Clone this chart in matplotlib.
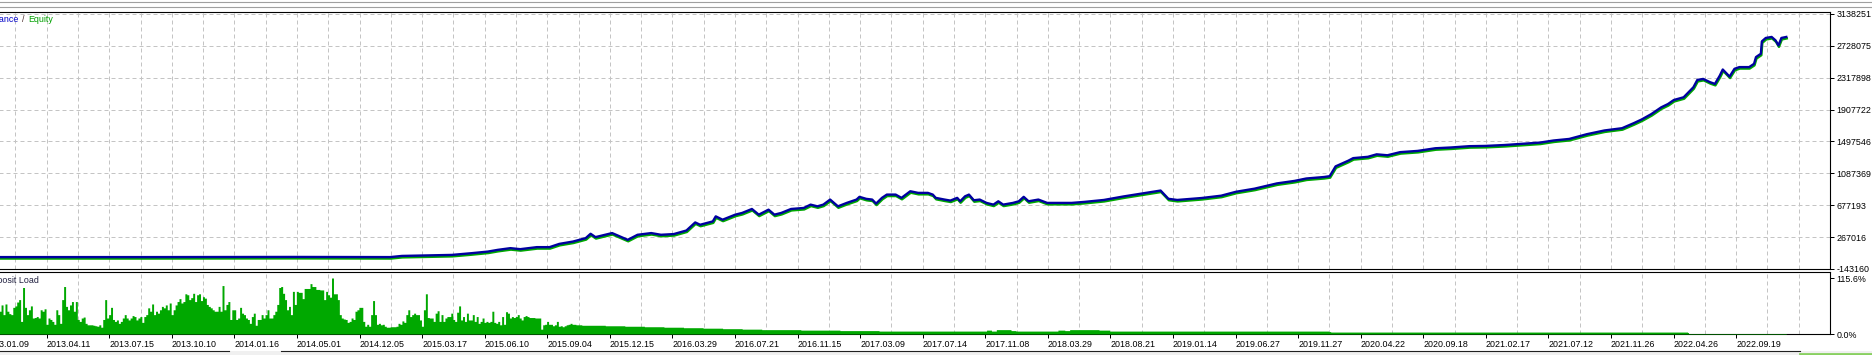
import numpy as np
import matplotlib
matplotlib.use("Agg")
import matplotlib.pyplot as plt
import matplotlib.transforms as mtransforms
from matplotlib.lines import Line2D

plt.rcParams["font.family"] = ["Liberation Sans", "DejaVu Sans"]

# balance curve (deal number, account value)
deals = [-40, 150, 300, 400, 412, 463, 483, 500, 510, 523, 533, 550, 563, 573, 587,
         600, 605, 610, 627, 643, 653, 667, 677, 690, 703, 712, 717, 730, 733, 740,
         753, 760, 770, 777, 787, 793, 800, 810, 823, 830, 837, 843, 850, 858, 867,
         877, 880, 887, 893, 897, 903, 908, 917, 923, 932, 940, 950, 955, 958, 967,
         973, 980, 983, 988, 992, 997, 1003, 1010, 1017, 1022, 1027, 1037, 1043, 1048, 1053,
         1063, 1072, 1083, 1097, 1110, 1130, 1150, 1170, 1188, 1196, 1205, 1230, 1250, 1265,
         1284, 1307, 1325, 1337, 1355, 1361, 1367, 1380, 1385, 1400, 1409, 1420, 1433, 1451,
         1469, 1485, 1504, 1520, 1540, 1560, 1576, 1590, 1606, 1624, 1642, 1660, 1672, 1680,
         1690, 1700, 1707, 1713, 1723, 1733, 1737, 1743, 1750, 1755, 1760, 1763, 1770, 1775,
         1780, 1790, 1795, 1797, 1802, 1803, 1807, 1813, 1817, 1820, 1823, 1828]
balance = [10000, 10000, 12000, 10000, 25000, 38000, 60000, 81000, 103000, 125000, 112000, 138000, 138000, 180000, 210000,
           254000, 310000, 267000, 319000, 232000, 297000, 319000, 297000, 306000, 352000, 456000, 426000, 469000, 534000, 491000,
           556000, 578000, 629000, 556000, 620000, 556000, 578000, 629000, 642000, 685000, 663000, 685000, 750000, 663000, 707000,
           750000, 785000, 759000, 750000, 698000, 772000, 814000, 814000, 772000, 857000, 836000, 836000, 814000, 772000, 750000,
           737000, 772000, 728000, 792000, 814000, 741000, 750000, 707000, 685000, 728000, 685000, 707000, 728000, 785000, 728000,
           750000, 707000, 707000, 707000, 720000, 745000, 790000, 830000, 866000, 760000, 745000, 770000, 800000, 850000,
           890000, 958000, 990000, 1021000, 1040000, 1051000, 1177000, 1250000, 1283000, 1300000, 1332000, 1320000, 1360000, 1376000,
           1410000, 1420000, 1437000, 1440000, 1452000, 1470000, 1483000, 1510000, 1530000, 1591000, 1639000, 1668000, 1733000, 1780000,
           1850000, 1936000, 1979000, 2031000, 2066000, 2195000, 2289000, 2302000, 2260000, 2238000, 2345000, 2423000, 2332000, 2432000,
           2454000, 2454000, 2496000, 2583000, 2626000, 2785000, 2829000, 2842000, 2798000, 2733000, 2829000, 2842000]

# deposit load (%), one value every 2 deals from deal 0 to 598
load_2013 = [47, 60, 40, 62, 47, 42, 40, 55, 58, 66, 71, 26, 96, 55, 40, 50, 58, 33, 34, 36,
             33, 50, 47, 52, 20, 33, 30, 26, 20, 50, 40, 22, 71, 98, 57, 50, 60, 67, 47, 67,
             30, 26, 33, 35, 22, 19, 19, 19, 18, 17, 16, 19, 14, 30, 71, 33, 40, 55, 30, 26,
             29, 22, 26, 33, 40, 33, 29, 33, 38, 36, 29, 33, 36, 24, 36, 40, 54, 47, 62, 40,
             47, 43, 50, 57, 54, 60, 50, 64, 40, 50, 60, 67, 73, 64, 67, 83, 81, 71, 75, 84]
load_2014 = [67, 81, 83, 69, 77, 74, 61, 57, 54, 50, 47, 47, 57, 47, 100, 50, 61, 67, 30, 50,
             50, 30, 33, 55, 43, 40, 33, 30, 22, 36, 43, 18, 30, 30, 40, 33, 40, 50, 33, 33,
             40, 47, 61, 96, 98, 84, 71, 50, 57, 40, 88, 61, 88, 86, 86, 73, 94, 94, 94, 104,
             98, 98, 92, 92, 91, 91, 71, 88, 81, 76, 115.6, 83, 83, 71, 40, 33, 31, 30, 24, 26,
             33, 30, 47, 50, 55, 55, 26, 16, 20, 16, 40, 69, 40, 20, 22, 19, 20, 16, 14, 14]
load_2015 = [15, 15, 15, 16, 22, 20, 27, 24, 40, 50, 36, 40, 43, 40, 40, 29, 16, 50, 83, 34,
             33, 33, 26, 43, 48, 26, 40, 26, 33, 36, 36, 43, 30, 26, 45, 58, 29, 36, 26, 43,
             29, 29, 40, 26, 36, 22, 26, 33, 24, 26, 24, 26, 47, 24, 22, 26, 19, 36, 20, 46,
             43, 33, 36, 34, 36, 40, 33, 29, 36, 38, 36, 34, 34, 34, 33, 33, 33, 10, 19, 20,
             26, 20, 20, 17, 19, 26, 16, 17, 15, 17, 19, 20, 22, 20, 20, 19, 19, 19, 18, 18]
# later, thinner part of the load histogram
tail_deals = [600, 620, 640, 660, 680, 700, 720, 740, 760, 780, 800, 820, 840, 860, 880,
              900, 940, 1000, 1010, 1015, 1020, 1035, 1040, 1080, 1083, 1090, 1095, 1110, 1125, 1136,
              1200, 1360, 1362, 1500, 1727, 1728, 1828]
tail_load = [18, 17, 16, 15, 14, 13, 12, 11, 10, 9, 9, 8, 8, 7, 7,
             6, 6, 6, 8, 6, 9, 7, 6, 6, 8, 7, 9, 9, 8, 6,
             6, 5, 4, 4, 3, 1, 1]

y_ticks = [-143160, 267016, 677193, 1087369, 1497546, 1907722, 2317898, 2728075, 3138251]
dates = ["2013.01.09", "2013.04.11", "2013.07.15", "2013.10.10", "2014.01.16", "2014.05.01",
         "2014.12.05", "2015.03.17", "2015.06.10", "2015.09.04", "2015.12.15", "2016.03.29",
         "2016.07.21", "2016.11.15", "2017.03.09", "2017.07.14", "2017.11.08", "2018.03.29",
         "2018.08.21", "2019.01.14", "2019.06.27", "2019.11.27", "2020.04.22", "2020.09.18",
         "2021.02.17", "2021.07.12", "2021.11.26", "2022.04.26", "2022.09.19"]

W, H = 1872, 355


def box(x0, y0, x1, y1):
    return [x0 / W, 1 - y1 / H, (x1 - x0) / W, (y1 - y0) / H]


fig = plt.figure(figsize=(W / 100, H / 100), dpi=100)
ax = fig.add_axes(box(-40, 12, 1830, 269))
ax2 = fig.add_axes(box(-40, 272, 1830, 334))

grid_kw = dict(color="#c4c4c4", lw=0.72, linestyle=(0, (4, 3)))
grid_x = -15.3 + 32 * np.arange(60)
label_x = -15.3 + 64 * np.arange(len(dates))

# balance / equity
blue = "#0000a0"
green = "#00a800"
shift = mtransforms.offset_copy(ax.transData, fig=fig, x=0.5, y=-1.5, units="dots")
ax.plot(deals, balance, color=green, lw=1.7, transform=shift, zorder=3)
ax.plot(deals, balance, color=blue, lw=1.7, zorder=4)

step = y_ticks[1] - y_ticks[0]
ax.set_xlim(-40, 1830)
ax.set_ylim(y_ticks[0], y_ticks[-1] + 0.06 * step)
ax.set_xticks(grid_x)
ax.set_xticklabels([])
ax.tick_params(axis="x", length=0)
ax.yaxis.tick_right()
ax.set_yticks(y_ticks)
ax.set_yticklabels([str(v) for v in y_ticks])
ax.tick_params(axis="y", length=3, width=0.72, pad=1.5, labelsize=6.4, colors="black")
ax.grid(True, **grid_kw)
ax.set_axisbelow(True)

# deposit load
x_fine = 2 * np.arange(len(load_2013) + len(load_2014) + len(load_2015))
load_x = list(x_fine) + tail_deals
load_y = load_2013 + load_2014 + load_2015 + tail_load
ax2.fill_between(load_x, load_y, step="post", color=green, lw=0, zorder=3)
ax2.set_xlim(-40, 1830)
ax2.set_ylim(0, 128)
ax2.set_xticks(label_x)
ax2.set_xticklabels(dates, ha="left")
ax2.set_xticks(grid_x, minor=True)
ax2.tick_params(axis="x", which="major", length=3, width=0.72, pad=1, labelsize=6.4)
ax2.tick_params(axis="x", which="minor", length=0)
ax2.yaxis.tick_right()
ax2.set_yticks([0, 115.6])
ax2.set_yticklabels(["0.0%", "115.6%"])
ax2.tick_params(axis="y", length=3, width=0.72, pad=1.5, labelsize=6.4)
ax2.grid(True, axis="x", which="minor", **grid_kw)
ax2.set_axisbelow(True)

for a in (ax, ax2):
    for s in a.spines.values():
        s.set_linewidth(0.8)
        s.set_color("black")

# panel captions (cut off at the left edge, as in the original window)
fs = 6.4
fig.text(19 / W, 1 - 20 / H, "Balance", color="#0000c8", fontsize=fs, ha="right", va="center")
fig.text(21.5 / W, 1 - 20 / H, "/", color="#503030", fontsize=fs, ha="left", va="center")
fig.text(28 / W, 1 - 20 / H, "Equity", color="#00a000", fontsize=fs, ha="left", va="center")
fig.text(39 / W, 1 - 280.5 / H, "Deposit Load", color="#202040", fontsize=fs, ha="right", va="center")


# window frame bits
def hline(y, x0, x1, color, lw=0.8):
    fig.add_artist(Line2D([x0 / W, x1 / W], [1 - y / H, 1 - y / H], color=color, lw=lw,
                          transform=fig.transFigure))


hline(1.5, 0, W, "#a0a0a0")
hline(6.5, 0, W, "#a0a0a0")
fig.add_artist(plt.Rectangle((0, 0), 1, 4 / H, color="#f0f0f0", transform=fig.transFigure, lw=0))
hline(350.5, 0, 229, "#202020")
hline(350.5, 281, 1800, "#202020")
hline(353.5, 1800, W, "#88d060", lw=2)

fig.savefig("out.png", dpi=100)
